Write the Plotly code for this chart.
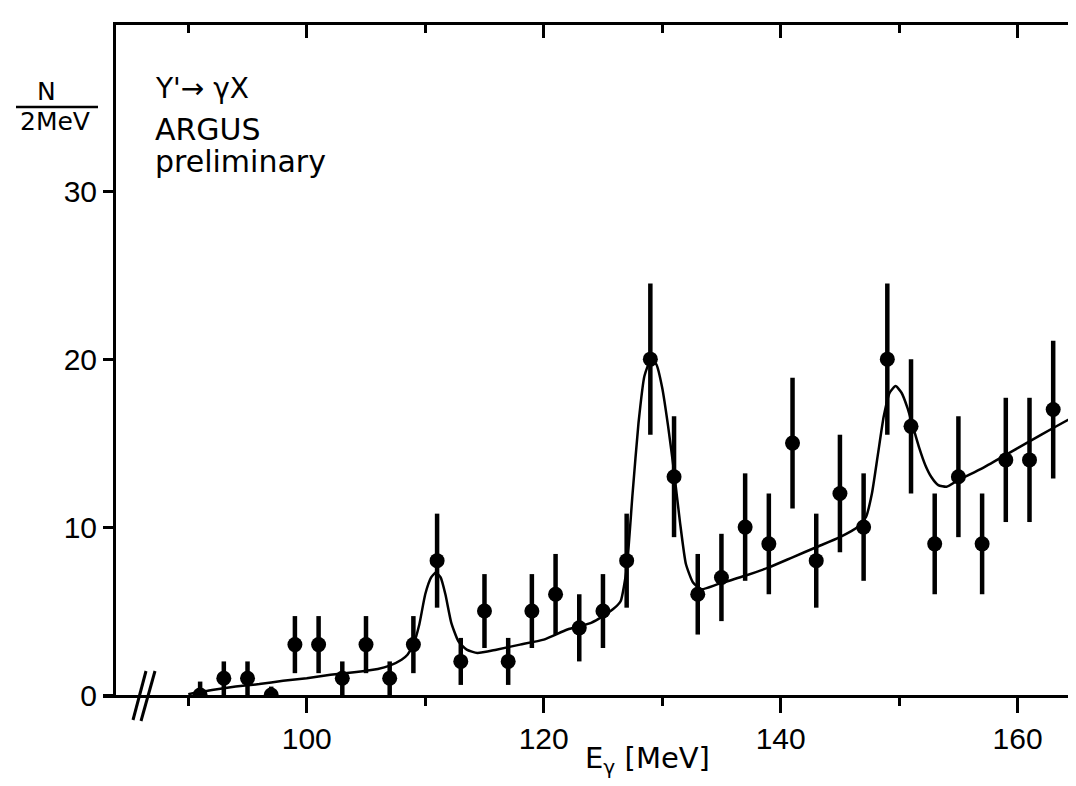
import plotly.graph_objects as go

# Measured spectrum (2 MeV bins)
E_gamma = [91, 93, 95, 97, 99, 101, 103, 105, 107, 109, 111, 113, 115, 117, 119, 121, 123, 125, 127,
           129, 131, 133, 135, 137, 139, 141, 143, 145, 147, 149, 151, 153, 155, 157, 159, 161, 163]
counts = [0, 1, 1, 0, 3, 3, 1, 3, 1, 3, 8, 2, 5, 2, 5, 6, 4, 5, 8,
          20, 13, 6, 7, 10, 9, 15, 8, 12, 10, 20, 16, 9, 13, 9, 14, 14, 17]
errors = [0.8, 1.0, 1.0, 0.5, 1.7, 1.7, 1.0, 1.7, 1.0, 1.7, 2.8, 1.4, 2.2, 1.4, 2.2, 2.4, 2.0, 2.2, 2.8,
          4.5, 3.6, 2.4, 2.6, 3.2, 3.0, 3.9, 2.8, 3.5, 3.2, 4.5, 4.0, 3.0, 3.6, 3.0, 3.7, 3.7, 4.1]

# Fitted curve
fit_E = [90, 92, 94, 96, 98, 100, 102, 104, 106, 107, 108, 108.5, 109, 109.5, 110, 110.5, 110.9, 111.3,
         111.7, 112.2, 112.8, 113.5, 114.4, 116, 118, 120, 122, 124, 125, 126, 126.5, 127, 127.5, 128,
         128.5, 129, 129.5, 130, 130.5, 131, 131.5, 132, 132.6, 133.3, 134.7, 137, 139, 141, 143, 145,
         146.5, 147.2, 147.7, 148.2, 148.7, 149.2, 149.7, 150.2, 150.7, 151.2, 151.7, 152.2, 152.7,
         153.3, 154, 155, 157, 159, 161, 163, 165.6]
fit_N = [0.05, 0.3, 0.5, 0.65, 0.85, 1.0, 1.2, 1.35, 1.55, 1.75, 2.1, 2.4, 3.0, 4.2, 6.0, 7.0, 7.3, 7.0,
         6.0, 4.3, 3.2, 2.7, 2.5, 2.7, 3.0, 3.3, 3.9, 4.3, 4.7, 5.2, 5.6, 7.5, 12.0, 16.2,
         19.0, 19.9, 19.7, 18.3, 16.0, 13.3, 10.3, 7.8, 6.7, 6.3, 6.6, 7.1, 7.6, 8.2, 8.8, 9.4,
         10.0, 10.6, 12.0, 14.3, 16.6, 18.0, 18.4, 18.0, 17.1, 15.9, 14.7, 13.7, 13.0,
         12.5, 12.4, 12.8, 13.5, 14.3, 15.1, 15.9, 16.9]

x_major = [100, 120, 140, 160]
x_labels = ["100", "120", "140", "160"]
y_major = [0, 10, 20, 30]
y_labels = ["0", "10", "20", "30"]

X_RANGE = [83.9, 165.6]
Y_RANGE = [0, 39.9]

fig = go.Figure()
fig.add_trace(go.Scatter(x=fit_E, y=fit_N, mode="lines",
                         line=dict(color="black", width=2.5, shape="spline", smoothing=0.5),
                         hoverinfo="skip", showlegend=False))
fig.add_trace(go.Scatter(x=E_gamma, y=counts, mode="markers",
                         marker=dict(color="black", size=15),
                         error_y=dict(type="data", array=errors, color="black", thickness=4.5, width=0),
                         showlegend=False))

tickfont = dict(family="Liberation Sans, Arial, sans-serif", size=30, color="black")
textfont = dict(family="DejaVu Sans, sans-serif", size=30, color="black")

fig.update_layout(
    width=1076, height=786,
    margin=dict(l=108, r=0, t=17, b=99),
    plot_bgcolor="white", paper_bgcolor="white",
    showlegend=False,
    xaxis=dict(range=X_RANGE, showgrid=False, zeroline=False, showline=True, linecolor="black",
               linewidth=3, ticks="outside", ticklen=15, tickwidth=3, tickcolor="black",
               tickvals=x_major, ticktext=x_labels, tickfont=tickfont,
               minor=dict(tick0=90, dtick=10, ticks="outside", ticklen=8, tickwidth=3, tickcolor="black")),
    xaxis2=dict(range=X_RANGE, overlaying="x", side="top", showgrid=False, zeroline=False,
                showline=True, linecolor="black", linewidth=3, ticks="inside", ticklen=13,
                tickwidth=3, tickcolor="black", tickvals=x_major, showticklabels=False,
                minor=dict(tick0=90, dtick=10, ticks="inside", ticklen=8, tickwidth=3, tickcolor="black")),
    yaxis=dict(range=Y_RANGE, showgrid=False, zeroline=False, showline=True, linecolor="black",
               linewidth=3, ticks="outside", ticklen=10, tickwidth=3, tickcolor="black",
               tickvals=y_major, ticktext=y_labels, tickfont=tickfont),
    yaxis2=dict(range=Y_RANGE, overlaying="y", side="right", showgrid=False, zeroline=False,
                showline=False, ticks="inside", ticklen=6, tickwidth=3, tickcolor="black",
                tickvals=[10, 20, 30], showticklabels=False),
)

# invisible trace to activate the mirrored axes
fig.add_trace(go.Scatter(x=[X_RANGE[0]], y=[Y_RANGE[0]], xaxis="x2", yaxis="y2", mode="markers",
                         marker=dict(opacity=0), hoverinfo="skip", showlegend=False))

def px_x(p):
    return (p - 108) / 968.0

def px_y(p):
    return (687 - p) / 670.0

ann = [
    dict(text="Υ'→ γX", x=px_x(145), y=px_y(80), xanchor="left", yanchor="middle", font=dict(textfont, size=28)),
    dict(text="ARGUS", x=px_x(145), y=px_y(121), xanchor="left", yanchor="middle", font=textfont),
    dict(text="preliminary", x=px_x(145), y=px_y(154), xanchor="left", yanchor="middle", font=textfont),
    dict(text="N", x=px_x(38), y=px_y(84), xanchor="center", yanchor="middle", font=dict(textfont, size=25)),
    dict(text="2MeV", x=px_x(47), y=px_y(113), xanchor="center", yanchor="middle", font=dict(textfont, size=25)),
    dict(text="E<sub>γ</sub> [MeV]", x=px_x(639), y=px_y(752), xanchor="center", yanchor="middle",
         font=dict(textfont, size=29)),
]
for a in ann:
    a.update(xref="paper", yref="paper", showarrow=False)
fig.update_layout(annotations=ann)

shapes = [
    dict(type="line", x0=px_x(8), x1=px_x(90), y0=px_y(99), y1=px_y(99), line=dict(color="black", width=2.5)),
    dict(type="line", x0=px_x(125), y0=px_y(712), x1=px_x(138), y1=px_y(663), line=dict(color="black", width=3)),
    dict(type="line", x0=px_x(133), y0=px_y(713), x1=px_x(147), y1=px_y(663), line=dict(color="black", width=3)),
    dict(type="line", x0=px_x(95), y0=px_y(688.5), x1=px_x(108), y1=px_y(688.5), line=dict(color="black", width=3)),
]
for s in shapes:
    s.update(xref="paper", yref="paper")
fig.update_layout(shapes=shapes)

fig.write_html("out.html")
